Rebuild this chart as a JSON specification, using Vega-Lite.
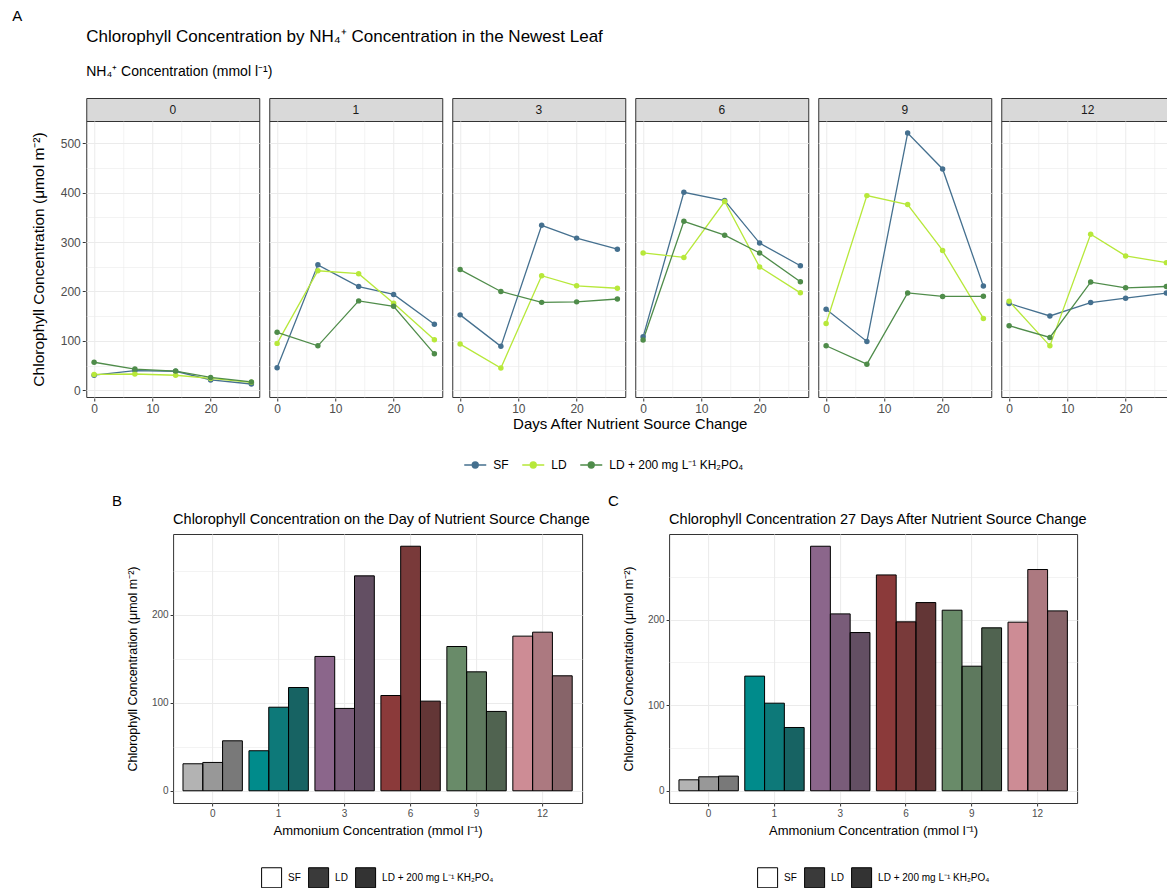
{
  "$schema": "https://vega.github.io/schema/vega-lite/v6.json",
  "padding": {"left": 12, "top": 8, "right": 2, "bottom": 2},
  "title": {"text": "A", "fontSize": 15, "anchor": "start", "frame": "bounds", "dx": -19, "offset": 4},
  "data": {"values": [
    {"c": 0, "day": 0, "t": "SF", "v": 30.7}, {"c": 0, "day": 7, "t": "SF", "v": 40}, {"c": 0, "day": 14, "t": "SF", "v": 38.6}, {"c": 0, "day": 20, "t": "SF", "v": 21}, {"c": 0, "day": 27, "t": "SF", "v": 12.8},
    {"c": 0, "day": 0, "t": "LD", "v": 32.2}, {"c": 0, "day": 7, "t": "LD", "v": 33}, {"c": 0, "day": 14, "t": "LD", "v": 30.5}, {"c": 0, "day": 20, "t": "LD", "v": 24}, {"c": 0, "day": 27, "t": "LD", "v": 16.3},
    {"c": 0, "day": 0, "t": "LD + 200 mg L⁻¹ KH₂PO₄", "v": 56.8}, {"c": 0, "day": 7, "t": "LD + 200 mg L⁻¹ KH₂PO₄", "v": 43}, {"c": 0, "day": 14, "t": "LD + 200 mg L⁻¹ KH₂PO₄", "v": 39}, {"c": 0, "day": 20, "t": "LD + 200 mg L⁻¹ KH₂PO₄", "v": 26}, {"c": 0, "day": 27, "t": "LD + 200 mg L⁻¹ KH₂PO₄", "v": 17.1},
    {"c": 1, "day": 0, "t": "SF", "v": 45.5}, {"c": 1, "day": 7, "t": "SF", "v": 254}, {"c": 1, "day": 14, "t": "SF", "v": 210}, {"c": 1, "day": 20, "t": "SF", "v": 194}, {"c": 1, "day": 27, "t": "SF", "v": 133.9},
    {"c": 1, "day": 0, "t": "LD", "v": 95}, {"c": 1, "day": 7, "t": "LD", "v": 242}, {"c": 1, "day": 14, "t": "LD", "v": 236}, {"c": 1, "day": 20, "t": "LD", "v": 176}, {"c": 1, "day": 27, "t": "LD", "v": 102.3},
    {"c": 1, "day": 0, "t": "LD + 200 mg L⁻¹ KH₂PO₄", "v": 117.4}, {"c": 1, "day": 7, "t": "LD + 200 mg L⁻¹ KH₂PO₄", "v": 90}, {"c": 1, "day": 14, "t": "LD + 200 mg L⁻¹ KH₂PO₄", "v": 181}, {"c": 1, "day": 20, "t": "LD + 200 mg L⁻¹ KH₂PO₄", "v": 170}, {"c": 1, "day": 27, "t": "LD + 200 mg L⁻¹ KH₂PO₄", "v": 73.9},
    {"c": 3, "day": 0, "t": "SF", "v": 152.7}, {"c": 3, "day": 7, "t": "SF", "v": 89}, {"c": 3, "day": 14, "t": "SF", "v": 334}, {"c": 3, "day": 20, "t": "SF", "v": 308}, {"c": 3, "day": 27, "t": "SF", "v": 285.6},
    {"c": 3, "day": 0, "t": "LD", "v": 93.6}, {"c": 3, "day": 7, "t": "LD", "v": 45}, {"c": 3, "day": 14, "t": "LD", "v": 232}, {"c": 3, "day": 20, "t": "LD", "v": 211.5}, {"c": 3, "day": 27, "t": "LD", "v": 206.6},
    {"c": 3, "day": 0, "t": "LD + 200 mg L⁻¹ KH₂PO₄", "v": 244.3}, {"c": 3, "day": 7, "t": "LD + 200 mg L⁻¹ KH₂PO₄", "v": 200}, {"c": 3, "day": 14, "t": "LD + 200 mg L⁻¹ KH₂PO₄", "v": 178}, {"c": 3, "day": 20, "t": "LD + 200 mg L⁻¹ KH₂PO₄", "v": 179}, {"c": 3, "day": 27, "t": "LD + 200 mg L⁻¹ KH₂PO₄", "v": 184.8},
    {"c": 6, "day": 0, "t": "SF", "v": 108.3}, {"c": 6, "day": 7, "t": "SF", "v": 400.7}, {"c": 6, "day": 14, "t": "SF", "v": 384}, {"c": 6, "day": 20, "t": "SF", "v": 298}, {"c": 6, "day": 27, "t": "SF", "v": 252.1},
    {"c": 6, "day": 0, "t": "LD", "v": 278}, {"c": 6, "day": 7, "t": "LD", "v": 269}, {"c": 6, "day": 14, "t": "LD", "v": 382}, {"c": 6, "day": 20, "t": "LD", "v": 249.5}, {"c": 6, "day": 27, "t": "LD", "v": 197.3},
    {"c": 6, "day": 0, "t": "LD + 200 mg L⁻¹ KH₂PO₄", "v": 101.9}, {"c": 6, "day": 7, "t": "LD + 200 mg L⁻¹ KH₂PO₄", "v": 342}, {"c": 6, "day": 14, "t": "LD + 200 mg L⁻¹ KH₂PO₄", "v": 314}, {"c": 6, "day": 20, "t": "LD + 200 mg L⁻¹ KH₂PO₄", "v": 278}, {"c": 6, "day": 27, "t": "LD + 200 mg L⁻¹ KH₂PO₄", "v": 219.8},
    {"c": 9, "day": 0, "t": "SF", "v": 164}, {"c": 9, "day": 7, "t": "SF", "v": 99}, {"c": 9, "day": 14, "t": "SF", "v": 520.7}, {"c": 9, "day": 20, "t": "SF", "v": 448}, {"c": 9, "day": 27, "t": "SF", "v": 210.9},
    {"c": 9, "day": 0, "t": "LD", "v": 135.2}, {"c": 9, "day": 7, "t": "LD", "v": 394}, {"c": 9, "day": 14, "t": "LD", "v": 376}, {"c": 9, "day": 20, "t": "LD", "v": 283}, {"c": 9, "day": 27, "t": "LD", "v": 145.5},
    {"c": 9, "day": 0, "t": "LD + 200 mg L⁻¹ KH₂PO₄", "v": 90.2}, {"c": 9, "day": 7, "t": "LD + 200 mg L⁻¹ KH₂PO₄", "v": 53}, {"c": 9, "day": 14, "t": "LD + 200 mg L⁻¹ KH₂PO₄", "v": 197}, {"c": 9, "day": 20, "t": "LD + 200 mg L⁻¹ KH₂PO₄", "v": 190}, {"c": 9, "day": 27, "t": "LD + 200 mg L⁻¹ KH₂PO₄", "v": 190.3},
    {"c": 12, "day": 0, "t": "SF", "v": 175.8}, {"c": 12, "day": 7, "t": "SF", "v": 150.5}, {"c": 12, "day": 14, "t": "SF", "v": 177.6}, {"c": 12, "day": 20, "t": "SF", "v": 186.4}, {"c": 12, "day": 27, "t": "SF", "v": 196.9},
    {"c": 12, "day": 0, "t": "LD", "v": 180.3}, {"c": 12, "day": 7, "t": "LD", "v": 90}, {"c": 12, "day": 14, "t": "LD", "v": 316}, {"c": 12, "day": 20, "t": "LD", "v": 272}, {"c": 12, "day": 27, "t": "LD", "v": 258.4},
    {"c": 12, "day": 0, "t": "LD + 200 mg L⁻¹ KH₂PO₄", "v": 130.7}, {"c": 12, "day": 7, "t": "LD + 200 mg L⁻¹ KH₂PO₄", "v": 107}, {"c": 12, "day": 14, "t": "LD + 200 mg L⁻¹ KH₂PO₄", "v": 219}, {"c": 12, "day": 20, "t": "LD + 200 mg L⁻¹ KH₂PO₄", "v": 207.5}, {"c": 12, "day": 27, "t": "LD + 200 mg L⁻¹ KH₂PO₄", "v": 210.1}
  ]},
  "spacing": 23,
  "center": true,
  "resolve": {"scale": {"color": "independent", "fill": "independent", "fillOpacity": "independent"}, "legend": {"color": "independent", "fill": "independent"}},
  "vconcat": [
    {
      "title": {"text": "Chlorophyll Concentration by NH₄⁺ Concentration in the Newest Leaf", "subtitle": "NH₄⁺ Concentration (mmol l⁻¹)", "fontSize": 17, "subtitleFontSize": 14, "subtitleColor": "#000", "subtitlePadding": 19, "anchor": "start", "frame": "group", "offset": 18},
      "bounds": "flush",
      "spacing": 23,
      "vconcat": [
        {
          "transform": [{"filter": "datum.day === 0 && datum.t === 'SF'"}],
          "facet": {"column": {"field": "c", "type": "ordinal", "title": null, "header": {"labels": false, "labelPadding": 0}}},
          "spacing": {"column": 8},
          "spec": {
            "width": 173, "height": 23,
            "view": {"fill": "#d9d9d9", "stroke": "#333333"},
            "mark": {"type": "text", "fontSize": 12, "color": "#1a1a1a"},
            "encoding": {"text": {"field": "c", "type": "ordinal"}}
          }
        },
        {
          "facet": {"column": {"field": "c", "type": "ordinal", "title": "Days After Nutrient Source Change",
            "header": {"labels": false, "labelPadding": 0, "titleOrient": "bottom", "titleFontSize": 15, "titleFontWeight": "normal", "titleColor": "#000000", "titlePadding": -7}}},
          "spacing": {"column": 8},
          "spec": {
            "width": 173, "height": 276,
            "encoding": {
              "x": {"field": "day", "type": "quantitative", "title": null,
                "scale": {"domain": [-1.35, 28.35], "nice": false, "zero": false},
                "axis": {"values": [0, 5, 10, 15, 20, 25], "labelExpr": "datum.value % 10 === 0 ? datum.label : ''",
                  "tickOpacity": {"condition": {"test": "datum.value % 10 === 0", "value": 1}, "value": 0},
                  "gridWidth": {"condition": {"test": "datum.value % 10 === 0", "value": 1}, "value": 0.6}}},
              "y": {"field": "v", "type": "quantitative", "title": "Chlorophyll Concentration (μmol m⁻²)",
                "scale": {"domain": [-13.5, 545], "nice": false, "zero": false},
                "axis": {"values": [0, 50, 100, 150, 200, 250, 300, 350, 400, 450, 500], "labelExpr": "datum.value % 100 === 0 ? datum.label : ''",
                  "tickOpacity": {"condition": {"test": "datum.value % 100 === 0", "value": 1}, "value": 0},
                  "gridWidth": {"condition": {"test": "datum.value % 100 === 0", "value": 1}, "value": 0.6},
                  "titleFontSize": 15.5, "titlePadding": 14}},
              "color": {"field": "t", "type": "nominal", "title": null,
                "scale": {"domain": ["SF", "LD", "LD + 200 mg L⁻¹ KH₂PO₄"], "range": ["#45708f", "#b7e83a", "#4f8c4a"]},
                "legend": {"orient": "bottom", "direction": "horizontal", "labelFontSize": 12, "symbolType": "M-1,0L1,0M0.27,0A0.27,0.27,0,1,1,-0.27,0A0.27,0.27,0,1,1,0.27,0Z", "symbolSize": 484, "symbolStrokeWidth": 1.4, "columnPadding": 10, "labelOffset": 6, "offset": 21}}
            },
            "layer": [
              {"mark": {"type": "line", "strokeWidth": 1.3}},
              {"mark": {"type": "point", "filled": true, "size": 30, "opacity": 1}}
            ]
          }
        }
      ]
    },
    {
      "spacing": 16,
      "resolve": {"scale": {"fill": "independent", "fillOpacity": "independent", "y": "independent"}, "legend": {"fill": "independent"}},
      "hconcat": [
        {
          "title": {"text": "B", "fontSize": 15, "anchor": "start", "frame": "bounds", "dx": -14, "offset": 2},
          "vconcat": [
            {
              "width": 409, "height": 269,
              "title": {"text": "Chlorophyll Concentration on the Day of Nutrient Source Change", "fontSize": 14.5, "anchor": "start", "frame": "group", "offset": 7},
              "transform": [{"filter": "datum.day === 0"}],
              "encoding": {
                "x": {"field": "c", "type": "ordinal", "title": "Ammonium Concentration (mmol l⁻¹)",
                  "scale": {"paddingInner": 0.1, "paddingOuter": 0.15},
                  "axis": {"labelAngle": 0, "grid": true, "bandPosition": 0.5, "labelFontSize": 10, "titleFontSize": 13, "titlePadding": 6}},
                "xOffset": {"field": "t", "type": "nominal", "sort": ["SF", "LD", "LD + 200 mg L⁻¹ KH₂PO₄"], "scale": {"paddingInner": 0, "paddingOuter": 0}},
                "y": {"field": "v", "type": "quantitative", "stack": null, "title": "Chlorophyll Concentration (μmol m⁻²)",
                  "scale": {"domain": [-13.9, 291.9], "nice": false, "zero": false},
                  "axis": {"values": [0, 50, 100, 150, 200, 250], "labelExpr": "datum.value % 100 === 0 ? datum.label : ''",
                    "tickOpacity": {"condition": {"test": "datum.value % 100 === 0", "value": 1}, "value": 0},
                    "gridWidth": {"condition": {"test": "datum.value % 100 === 0", "value": 1}, "value": 0.6},
                    "labelFontSize": 10, "titleFontSize": 12.5, "titlePadding": 12}}
              },
              "layer": [
                {"mark": {"type": "bar"},
                  "encoding": {"fill": {"field": "c", "type": "ordinal", "scale": {"domain": [0, 1, 3, 6, 9, 12], "range": ["#b3b3b3", "#008b8b", "#8b668b", "#8b3a3a", "#698b69", "#cd8c95"]}, "legend": null}}},
                {"mark": {"type": "bar", "stroke": "#000000", "strokeWidth": 1},
                  "encoding": {
                    "fill": {"field": "t", "type": "nominal", "title": null, "scale": {"domain": ["SF", "LD", "LD + 200 mg L⁻¹ KH₂PO₄"], "range": ["#ffffff", "#3a3a3a", "#333333"]},
                      "legend": {"orient": "bottom", "direction": "horizontal", "symbolType": "square", "symbolSize": 400, "symbolStrokeColor": "#000", "symbolStrokeWidth": 1, "labelFontSize": 10, "columnPadding": 5, "labelOffset": 6, "offset": 30}},
                    "fillOpacity": {"field": "t", "type": "ordinal", "sort": ["SF", "LD", "LD + 200 mg L⁻¹ KH₂PO₄"], "scale": {"domain": ["SF", "LD", "LD + 200 mg L⁻¹ KH₂PO₄"], "range": [0, 0.45, 0.78]}, "legend": null}
                  }}
              ],
              "resolve": {"scale": {"fill": "independent"}}
            }
          ]
        },
        {
          "title": {"text": "C", "fontSize": 15, "anchor": "start", "frame": "bounds", "dx": -14, "offset": 2},
          "vconcat": [
            {
              "width": 408, "height": 269,
              "title": {"text": "Chlorophyll Concentration 27 Days After Nutrient Source Change", "fontSize": 14.5, "anchor": "start", "frame": "group", "offset": 7},
              "transform": [{"filter": "datum.day === 27"}],
              "encoding": {
                "x": {"field": "c", "type": "ordinal", "title": "Ammonium Concentration (mmol l⁻¹)",
                  "scale": {"paddingInner": 0.1, "paddingOuter": 0.15},
                  "axis": {"labelAngle": 0, "grid": true, "bandPosition": 0.5, "labelFontSize": 10, "titleFontSize": 13, "titlePadding": 6}},
                "xOffset": {"field": "t", "type": "nominal", "sort": ["SF", "LD", "LD + 200 mg L⁻¹ KH₂PO₄"], "scale": {"paddingInner": 0, "paddingOuter": 0}},
                "y": {"field": "v", "type": "quantitative", "stack": null, "title": "Chlorophyll Concentration (μmol m⁻²)",
                  "scale": {"domain": [-14.3, 299.9], "nice": false, "zero": false},
                  "axis": {"values": [0, 50, 100, 150, 200, 250], "labelExpr": "datum.value % 100 === 0 ? datum.label : ''",
                    "tickOpacity": {"condition": {"test": "datum.value % 100 === 0", "value": 1}, "value": 0},
                    "gridWidth": {"condition": {"test": "datum.value % 100 === 0", "value": 1}, "value": 0.6},
                    "labelFontSize": 10, "titleFontSize": 12.5, "titlePadding": 12}}
              },
              "layer": [
                {"mark": {"type": "bar"},
                  "encoding": {"fill": {"field": "c", "type": "ordinal", "scale": {"domain": [0, 1, 3, 6, 9, 12], "range": ["#b3b3b3", "#008b8b", "#8b668b", "#8b3a3a", "#698b69", "#cd8c95"]}, "legend": null}}},
                {"mark": {"type": "bar", "stroke": "#000000", "strokeWidth": 1},
                  "encoding": {
                    "fill": {"field": "t", "type": "nominal", "title": null, "scale": {"domain": ["SF", "LD", "LD + 200 mg L⁻¹ KH₂PO₄"], "range": ["#ffffff", "#3a3a3a", "#333333"]},
                      "legend": {"orient": "bottom", "direction": "horizontal", "symbolType": "square", "symbolSize": 400, "symbolStrokeColor": "#000", "symbolStrokeWidth": 1, "labelFontSize": 10, "columnPadding": 5, "labelOffset": 6, "offset": 30}},
                    "fillOpacity": {"field": "t", "type": "ordinal", "sort": ["SF", "LD", "LD + 200 mg L⁻¹ KH₂PO₄"], "scale": {"domain": ["SF", "LD", "LD + 200 mg L⁻¹ KH₂PO₄"], "range": [0, 0.45, 0.78]}, "legend": null}
                  }}
              ],
              "resolve": {"scale": {"fill": "independent"}}
            }
          ]
        }
      ]
    }
  ],
  "config": {
    "font": "Liberation Sans",
    "view": {"stroke": "#333333", "strokeWidth": 1},
    "axis": {"labelColor": "#4d4d4d", "labelFontSize": 12, "tickColor": "#333333", "tickSize": 3, "domain": false, "gridColor": "#ebebeb", "titleFontWeight": "normal", "titleColor": "#000000", "labelPadding": 2},
    "title": {"fontWeight": "normal", "color": "#000000"},
    "legend": {"labelColor": "#000000", "layout": {"bottom": {"anchor": "middle", "bounds": "flush"}}}
  }
}
